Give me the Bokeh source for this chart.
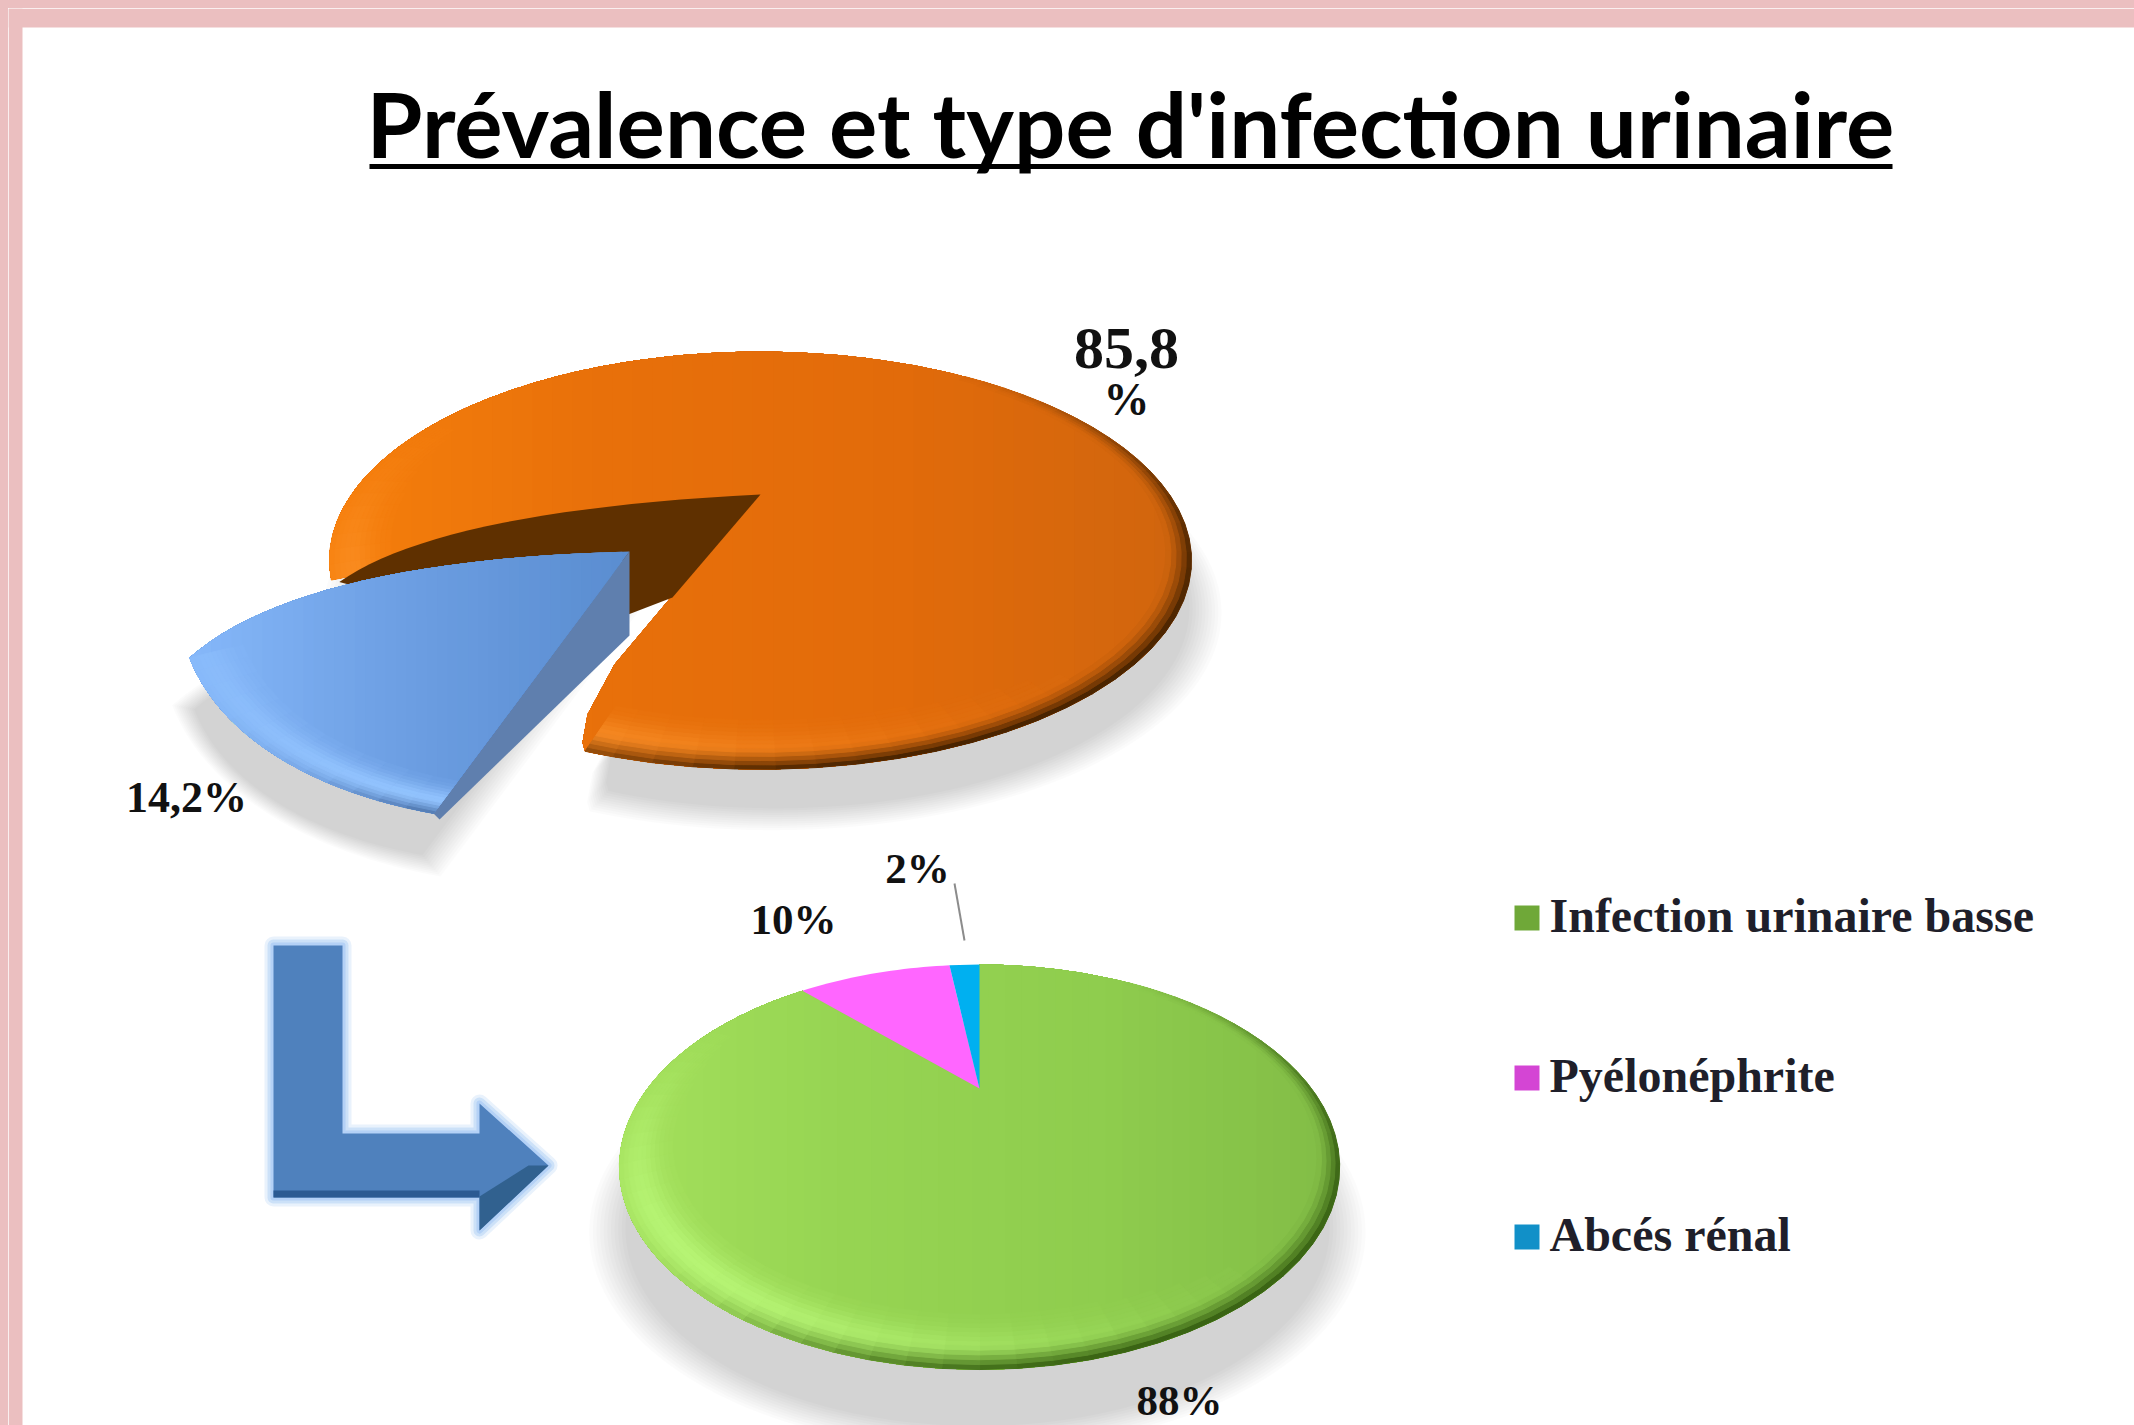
import numpy as np
from bokeh.plotting import figure
from bokeh.embed import file_html
from bokeh.resources import INLINE
from bokeh.core.properties import value

# ---------- data ----------
title_text = "Prévalence et type d'infection urinaire"
prevalence_names = ["Infection urinaire", "Autres"]
prevalence_values = [85.8, 14.2]
type_names = ["Infection urinaire basse", "Pyélonéphrite", "Abcés rénal"]
type_values = [88, 10, 2]
type_colors = ["#92d050", "#ff66ff", "#00b0f0"]
legend_colors = ["#6fa838", "#d445d4", "#1190c8"]

# ---------- layout ----------
W, H = 2126, 1417
PINK = "#ebbfc0"
p = figure(width=W, height=H, x_range=(8, 8 + W), y_range=(8 + H, 8),
           output_backend="svg", toolbar_location=None, min_border=0)
p.axis.visible = False
p.grid.visible = False
p.outline_line_color = None
p.background_fill_color = "white"
p.border_fill_color = "white"


def hexrgb(c):
    return np.array([int(c[i:i + 2], 16) for i in (1, 3, 5)], float)


def rgbhex(a):
    a = np.clip(np.round(a), 0, 255).astype(int)
    return "#%02x%02x%02x" % tuple(a)


def mix(a, b, t):
    return a + (b - a) * float(np.clip(t, 0, 1))


class Disc:
    """Perspective view of a flat disc: apex (ax, ay) is the pie's centre."""
    def __init__(self, ax, ay, R, S, k, Q=0.0):
        self.ax, self.ay, self.R, self.S, self.k, self.Q = ax, ay, R, S, k, Q

    def pt(self, r, deg):
        t = np.radians(deg)
        u, v = r * np.cos(t), r * np.sin(t)
        w = 1 - self.k * v
        return self.ax + (self.R * u + self.Q * v) / w, self.ay + self.S * v / w

    def arc(self, a0, a1, r=1.0):
        n = max(3, int(abs(a1 - a0) / 1.5))
        return self.pt(r, np.linspace(a0, a1, n))

    def sector(self, a0, a1, r=1.0):
        x, y = self.arc(a0, a1, r)
        return np.r_[self.ax, x], np.r_[self.ay, y]


def bez(p0, c, p1, n=24):
    t = np.linspace(0, 1, n)
    return ((1 - t) ** 2 * p0[0] + 2 * t * (1 - t) * c[0] + t ** 2 * p1[0],
            (1 - t) ** 2 * p0[1] + 2 * t * (1 - t) * c[1] + t ** 2 * p1[1])


def clip_left(x, y, c):
    """Keep the part of the polygon with x <= c."""
    ox, oy = [], []
    n = len(x)
    for i in range(n):
        x0, y0, x1, y1 = x[i], y[i], x[(i + 1) % n], y[(i + 1) % n]
        in0, in1 = x0 <= c, x1 <= c
        if in0:
            ox.append(x0); oy.append(y0)
        if in0 != in1:
            f = (c - x0) / (x1 - x0)
            ox.append(c); oy.append(y0 + f * (y1 - y0))
    return ox, oy


def shadow(x, y, dx, dy, spread=18, layers=11, total=0.15, grow=0.0):
    x, y = np.asarray(x), np.asarray(y)
    cx, cy = x.mean(), y.mean()
    span = max(np.ptp(x), np.ptp(y)) / 2
    a = 1 - (1 - total) ** (1 / layers)
    for s in np.linspace(spread, -spread, layers):
        f = 1 + (s + grow) / span
        p.patch((x - cx) * f + cx + dx, (y - cy) * f + cy + dy,
                fill_color="#000000", fill_alpha=a, line_color=None)


def gradient_face(x, y, stops, lo, hi, steps=44):
    """Paint a horizontal gradient by overlaying left-clipped copies."""
    def col(px):
        t = np.clip((px - lo) / (hi - lo), 0, 1) * (len(stops) - 1)
        i = min(int(t), len(stops) - 2)
        return mix(hexrgb(stops[i]), hexrgb(stops[i + 1]), t - i)
    for c in np.linspace(hi, lo, steps):
        cx, cy = clip_left(list(x), list(y), c)
        if len(cx) > 2:
            p.patch(cx, cy, fill_color=rgbhex(col(c)), line_color=None)
    return col


def rim(d, a0, a1, col, dark, light, depth=0.13, dark_gain=1.0, light_gain=0.7, lc=128):
    bands = np.linspace(1, 1 - depth, 13)
    edges = np.arange(a0, a1 + 4, 4.0)
    edges[-1] = a1
    xs, ys, cs = [], [], []
    dk, lt = hexrgb(dark), hexrgb(light)
    for j in range(len(bands) - 1):
        q = j / (len(bands) - 2)
        for i in range(len(edges) - 1):
            if edges[i + 1] <= edges[i]:
                continue
            m = (edges[i] + edges[i + 1]) / 2
            wd = max(np.cos(np.radians(m - 35)), 0) ** 1.3 * 0.95 \
                + 0.4 * max(np.sin(np.radians(m)), 0) ** 6
            wl = max(np.cos(np.radians(m - lc)), 0) ** 3
            wd2 = wd * dark_gain * max(1 - q / 0.42, 0) ** 1.5
            wl2 = wl * light_gain * np.exp(-((q - 0.35) / 0.4) ** 2)
            if wd2 < 0.01 and wl2 < 0.01:
                continue
            ang = np.array([edges[i], edges[i + 1]])
            xo, yo = d.pt(bands[j], ang)
            xi, yi = d.pt(bands[j + 1], ang)
            base = col((xo[0] + xo[1]) / 2)
            c = mix(mix(base, lt, wl2), dk, wd2)
            xs.append([xo[0], xo[1], xi[1], xi[0]])
            ys.append([yo[0], yo[1], yi[1], yi[0]])
            cs.append(rgbhex(c))
    if xs:
        p.patches(xs, ys, fill_color=cs, line_color=cs, line_width=1)


# ---------- page frame ----------
p.quad(left=8, right=8 + W, top=8, bottom=27, fill_color=PINK, line_color=None)
p.quad(left=8, right=22, top=8, bottom=8 + H, fill_color=PINK, line_color=None)

# ---------- upper pie ----------
orange = Disc(760, 494, 409, 188, 0.316)
blue = Disc(629, 551, 441, 263.7, 0.031, Q=-75.4)
blue_mid = 131.0
blue_span = prevalence_values[1] / sum(prevalence_values) * 360
b0, b1 = blue_mid - blue_span / 2, blue_mid + blue_span / 2
o0, o1 = b1, b0 + 360 + 2

# orange outline: arc, then the slightly bowed cut edge back to the apex
oax, oay = orange.arc(o0, o1)
ox = np.r_[orange.ax, oax, 582, 587, 614, 672]
oy = np.r_[orange.ay, oay, 742, 714, 664, 595]

# blue outline: arc, then the bulging upper edge back to the apex
bax, bay = blue.arc(b0, b1)
bex, bey = bez((bax[-1], bay[-1]), (300, 560), (blue.ax, blue.ay))
bx = np.r_[bax, bex]
by = np.r_[bay, bey]

shadow(ox, oy, 14, 50)
shadow(bx, by, -4, 50, grow=4)

ocol = gradient_face(ox, oy, ["#f67f0c", "#e8700a", "#e26b0a", "#d0650e"], 331, 1194)
rim(orange, o0, o1, ocol, "#4a2400", "#ff9a34")

# inner walls of the upper pie, seen through the gap
tipx, tipy = orange.pt(1.0, o0)
wx, wy = bez((orange.ax, orange.ay), (440, 510), (tipx + 8, tipy + 2))
p.patch(np.r_[wx, 560, 672], np.r_[wy, 640, 597], fill_color="#5f3000", line_color=None)

# blue wedge wall then top
tx, ty = blue.pt(1.0, b0)
p.patch([blue.ax, blue.ax, tx + 6, tx - 2], [blue.ay, blue.ay + 84, ty + 6, ty - 2],
        fill_color="#5f7fae", line_color=None)
bcol = gradient_face(bx, by, ["#86b8fa", "#6c9ee2", "#5a8dd0"], 190, 632)
rim(blue, b0, b1, bcol, "#2f4f80", "#93c4ff", depth=0.12, dark_gain=1.0, light_gain=1.0, lc=110)

# ---------- lower pie ----------
green = Disc(979, 1088, 332, 172, 0.388)
sx, sy = green.arc(0, 360)
shadow(sx, sy, -2, 62, grow=10)

start = -90.0
for name, v, colr in zip(type_names, type_values, type_colors):
    a = v / sum(type_values) * 360
    x, y = green.sector(start, start + a)
    if name == type_names[0]:
        gcol = gradient_face(x, y, ["#a4e05c", "#96d452", "#8fcd4e", "#82bd46"], 619, 1340)
        rim(green, start, start + a, gcol, "#3a6414", "#c0ff80")
    else:
        p.patch(x, y, fill_color=colr, line_color=None)
    start += a

# ---------- block arrow ----------
ax_ = [273, 342, 342, 479, 479, 548, 479, 479, 273]
ay_ = [945, 945, 1133, 1133, 1103, 1165, 1230, 1197, 1197]
for lw, al in ((18, 0.25), (12, 0.45), (6, 0.7)):
    p.patch(ax_, ay_, fill_color=None, line_color="#a9cbf5", line_alpha=al,
            line_width=lw, line_join="round")
p.patch(ax_, ay_, fill_color="#4f81bd", line_color=None)
p.patch([273, 479, 479, 273], [1190, 1190, 1197, 1197], fill_color="#2b5a92", line_color=None)
p.patch([548, 479, 479, 528], [1165, 1230, 1196, 1165], fill_color="#31618f", line_color=None)

# ---------- title ----------
p.text([1130], [122], text=[title_text], text_font=value("Lato"), text_font_style="bold",
       text_font_size="90.5px", text_align="center", text_baseline="alphabetic", text_color="#000000")
p.segment([369], [166], [1892], [166], line_color="#000000", line_width=5)

# ---------- labels ----------
SERIF = value("Liberation Serif")
pct_labels = ["85,8", "%", "14,2%", "2%", "10%", "88%"]
label_x = [1126, 1126, 186, 917, 793, 1179]
label_y = [348, 399, 797, 868, 919, 1400]
label_size = ["60px", "46px", "44px", "43px", "43px", "43px"]
for t_, x_, y_, s_ in zip(pct_labels, label_x, label_y, label_size):
    p.text([x_], [y_], text=[t_], text_font=SERIF, text_font_style="bold", text_font_size=s_,
           text_align="center", text_baseline="middle", text_color="#111111")
p.segment([954], [883], [964], [940], line_color="#8c8c8c", line_width=2)

# ---------- legend ----------
leg_y = [932, 1092, 1251]
for name, colr, y_ in zip(type_names, legend_colors, leg_y):
    p.quad(left=1514, right=1539, top=y_ - 27, bottom=y_ - 2, fill_color=colr, line_color=None)
    p.text([1549], [y_ - 17], text=[name], text_font=SERIF, text_font_style="bold",
           text_font_size="48px", text_align="left", text_baseline="alphabetic",
           text_color="#1f1f2a")

html = file_html(p, INLINE)
css = ("<style>html,body{height:100%;overflow:hidden}"
       "body{margin:8px 0 0 8px;background:"
       "linear-gradient(#ebbfc0,#ebbfc0) left top/100% 8px no-repeat,"
       "linear-gradient(#ebbfc0,#ebbfc0) left top/8px 100% no-repeat,#ffffff}</style>")
html = html.replace("</head>", css + "</head>", 1)
open("out.html", "w").write(html)
